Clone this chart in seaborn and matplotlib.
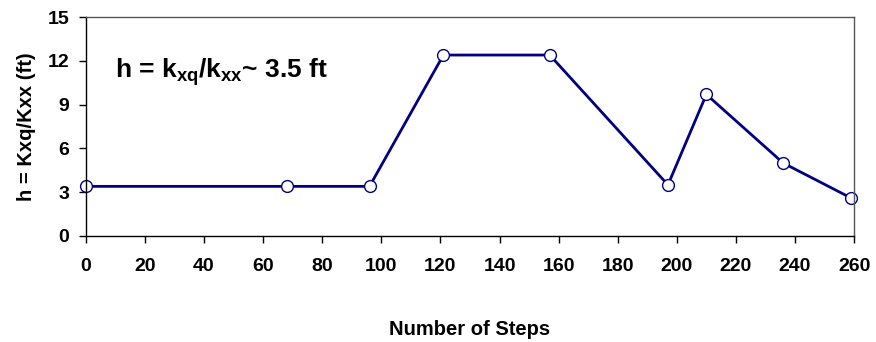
import matplotlib
matplotlib.use("Agg")
import matplotlib.pyplot as plt
import seaborn as sns
import pandas as pd

steps = [0, 68, 96, 121, 157, 197, 210, 236, 259]
h_values = [3.4, 3.4, 3.4, 12.4, 12.4, 3.5, 9.7, 5.0, 2.6]
x_ticks = list(range(0, 261, 20))
y_ticks = [0, 3, 6, 9, 12, 15]

sns.set_theme(style="white")
plt.rcParams['font.family'] = ['Liberation Sans', 'DejaVu Sans']
plt.rcParams['font.weight'] = 'bold'
plt.rcParams['text.color'] = 'black'
plt.rcParams['axes.labelcolor'] = 'black'
plt.rcParams['xtick.color'] = 'black'
plt.rcParams['ytick.color'] = 'black'
plt.rcParams['mathtext.fontset'] = 'custom'
plt.rcParams['mathtext.rm'] = 'Liberation Sans:bold'
plt.rcParams['mathtext.bf'] = 'Liberation Sans:bold'
plt.rcParams['mathtext.it'] = 'Liberation Sans:bold'

df = pd.DataFrame({"steps": steps, "h": h_values})

fig = plt.figure(figsize=(8.76, 3.42), dpi=100)
ax = fig.add_axes([0.098, 0.31, 0.877, 0.64])
sns.lineplot(data=df, x="steps", y="h", ax=ax, color="#000080", linewidth=2.0,
             marker="o", markersize=8.5, markerfacecolor="white",
             markeredgecolor="#000080", markeredgewidth=1.0, sort=False)
for m in ax.lines:
    m.set_clip_on(False)

ax.set_xlim(0, 260)
ax.set_ylim(0, 15)
ax.set_xticks(x_ticks)
ax.set_yticks(y_ticks)
ax.tick_params(axis='both', direction='out', length=5, width=1, color='black',
               labelsize=14, bottom=True, left=True)
ax.tick_params(axis='x', pad=11)
ax.tick_params(axis='y', pad=7)
for lab in ax.get_xticklabels() + ax.get_yticklabels():
    lab.set_fontweight('bold')
    lab.set_color('black')
for s in ax.spines.values():
    s.set_visible(True)
    s.set_color('black')
    s.set_linewidth(1.0)
for s in ['top', 'right']:
    ax.spines[s].set_color('#555555')

ax.set_xlabel("Number of Steps", fontsize=14.5, fontweight='bold', labelpad=32, color='black')
ax.set_ylabel("h = Kxq/Kxx (ft)", fontsize=14.5, fontweight='bold', labelpad=8, color='black')

ax.text(10, 11.2, r"h = k$_{xq}$/k$_{xx}$~ 3.5 ft", fontsize=19, fontweight='bold',
        ha='left', va='center', color='black')

fig.savefig("out.png", dpi=100)
